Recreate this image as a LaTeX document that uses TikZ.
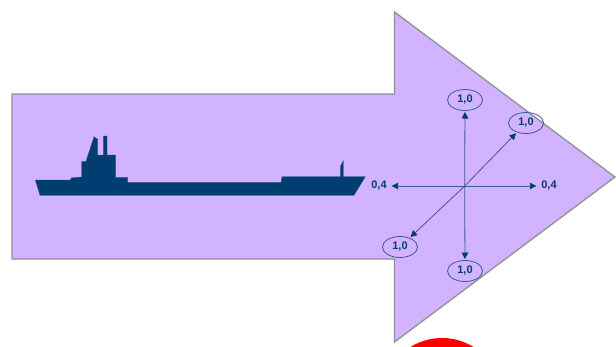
\documentclass[tikz,border=0pt]{standalone}
\usepackage{fontspec}
\setmainfont{Liberation Sans}
\definecolor{arrowfill}{HTML}{D2B3FF}
\definecolor{arrowline}{HTML}{8F8F96}
\definecolor{navy}{HTML}{003D70}
\definecolor{ringline}{HTML}{3F5A96}
\usetikzlibrary{arrows.meta,shapes.geometric}
\tikzset{
  bigarrow/.style={draw=arrowline,line width=1.3pt,fill=arrowfill,line join=miter},
  shipshape/.style={fill=navy,draw=navy!80!arrowfill,line width=0.3pt},
  ring/.style={ellipse,draw=ringline,line width=0.8pt,minimum width=35pt,minimum height=21pt,inner sep=0pt,outer sep=1.5pt,font=\fontsize{11}{13}\selectfont\bfseries,text=navy},
  plainlab/.style={inner sep=0pt,outer sep=5pt,font=\fontsize{11}{13}\selectfont\bfseries,text=navy},
  forceend/.style={draw=ringline,line width=0.8pt,-{Triangle[length=6.5pt,width=6.5pt,color=navy]}}
}
\begin{document}
\begin{tikzpicture}[x=1pt,y=-1pt]
\useasboundingbox (0,0) rectangle (616,346);
\fill[white] (0,0) rectangle (616,346);
\begin{scope}
\clip (0,0) rectangle (616,346);
\fill[red] (442,398) circle[radius=60];
\draw[bigarrow] (12,94) -- (394.5,94) -- (394.5,12) -- (615,177) -- (394.5,342) -- (394.5,259) -- (12,259) -- cycle;
\end{scope}
% ship
\path[shipshape] (35.3,180) -- (40,195.3) -- (354,195.3) -- (365.3,176.7) -- (343.3,176.7) -- (343.3,160.7) -- (340.3,166.7) -- (340.3,176.7) -- (282,176.7) -- (281,182.3) -- (127.7,182.3) -- (127.7,177.3) -- (115.7,177.3) -- (115.7,155) -- (107,155) -- (107,136) -- (103.3,136) -- (103.3,155) -- (97.7,155) -- (97.7,139.3) -- (94,136.7) -- (86,161.3) -- (81.7,161.3) -- (81.7,177) -- (71.7,177.7) -- (70,180) -- cycle;
% labels
\coordinate (c) at (464.7,186);
\node[ring] (n) at (465,100) {1,0};
\node[ring] (s) at (465,271) {1,0};
\node[ring] (ne) at (526,123) {1,0};
\node[ring] (sw) at (400,247) {1,0};
\node[plainlab] (w) at (379,185.5) {0,4};
\node[plainlab] (e) at (549,185.5) {0,4};
\draw[forceend] (c) -- (n);
\draw[forceend] (c) -- (s);
\draw[forceend] (c) -- (ne);
\draw[forceend] (c) -- (sw);
\draw[forceend] (c) -- (w.east |- c);
\draw[forceend] (c) -- (e.west |- c);
\end{tikzpicture}
\end{document}
